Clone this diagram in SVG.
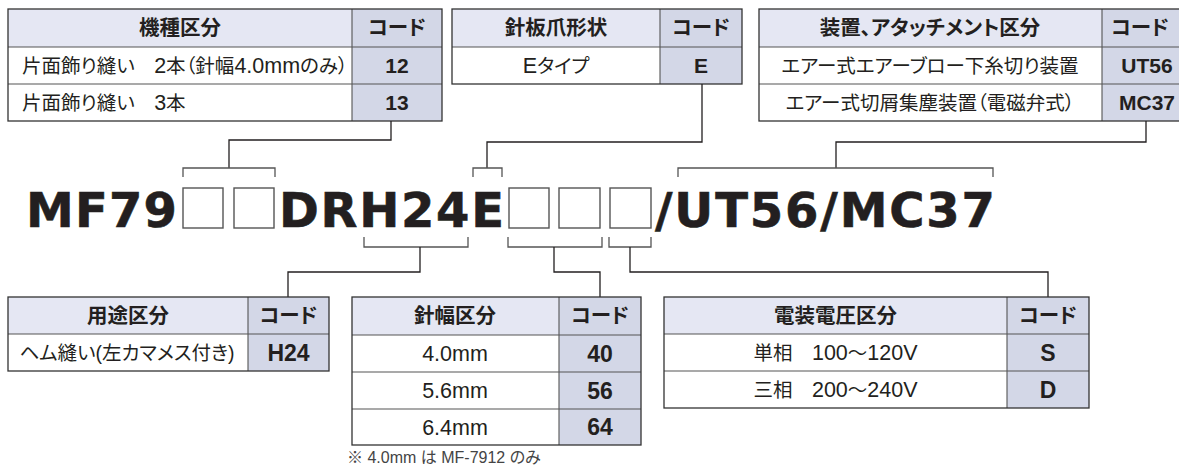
<svg xmlns="http://www.w3.org/2000/svg" width="1179" height="467" viewBox="0 0 1179 467">
<style>
.bg{fill:#ffffff}
.hd{fill:#e5e7f3}
.cd{fill:#d3d7e7}
.frame{fill:none;stroke:#333333;stroke-width:1.3}
.ln{stroke:#555555;stroke-width:1.1;fill:none}
.conn{fill:none;stroke:#231f20;stroke-width:1.3}
.brk{fill:none;stroke:#555555;stroke-width:1.3}
.box{fill:none;stroke:#555555;stroke-width:1.4}
.t{font-family:"Liberation Sans","Noto Sans CJK JP",sans-serif;font-size:19.5px;fill:#231f20;text-anchor:middle;font-feature-settings:"palt" 1}
.e{font-size:21.5px}
.l{text-anchor:start}
.b{font-weight:bold}
.h{font-size:20.5px}
.c{font-weight:bold;font-size:21px}
.c2{font-weight:bold;font-size:23px}
.model{font-family:"DejaVu Sans","Liberation Sans",sans-serif;font-weight:bold;font-size:48px;fill:#231f20;stroke:#231f20;stroke-width:0.6}
.note{font-family:"Liberation Sans","Noto Sans CJK JP",sans-serif;font-size:16px;fill:#444444;font-feature-settings:"palt" 1}
</style>
<rect class="bg" x="0" y="0" width="1179" height="467"/>

<g id="table-kishu">
<rect class="bg" x="8" y="9" width="434" height="112"/>
<rect class="hd" x="8" y="9" width="344" height="38"/>
<rect class="cd" x="352" y="9" width="90" height="112"/>
<path class="ln" d="M8,47H442M8,84H442M352,9V121"/>
<rect class="frame" x="8" y="9" width="434" height="112"/>
<text class="t b h" x="180" y="35">機種区分</text>
<text class="t b h" x="397" y="35">コード</text>
<text class="t l" x="22" y="72.5">片面飾り縫い　<tspan class="e">2</tspan>本（針幅<tspan class="e">4.0mm</tspan>のみ）</text>
<text class="t l" x="22" y="109.5">片面飾り縫い　<tspan class="e">3</tspan>本</text>
<text class="t c" x="397" y="73">12</text>
<text class="t c" x="397" y="110">13</text>
</g>

<g id="table-needleplate">
<rect class="bg" x="452" y="9" width="290" height="75"/>
<rect class="hd" x="452" y="9" width="208" height="38"/>
<rect class="cd" x="660" y="9" width="82" height="75"/>
<path class="ln" d="M452,47H742M660,9V84"/>
<rect class="frame" x="452" y="9" width="290" height="75"/>
<text class="t b h" x="556" y="35">針板爪形状</text>
<text class="t b h" x="701" y="35">コード</text>
<text class="t" x="556" y="72.5"><tspan class="e">E</tspan>タイプ</text>
<text class="t c" x="701" y="73">E</text>
</g>

<g id="table-device">
<rect class="bg" x="759" y="9" width="430" height="112"/>
<rect class="hd" x="759" y="9" width="343" height="38"/>
<rect class="cd" x="1102" y="9" width="87" height="112"/>
<path class="ln" d="M759,47H1189M759,84H1189M1102,9V121"/>
<rect class="frame" x="759" y="9" width="430" height="112"/>
<text class="t b h" x="930" y="35">装置、アタッチメント区分</text>
<text class="t b h" x="1140" y="35">コード</text>
<text class="t" x="930" y="72.5">エアー式エアーブロー下糸切り装置</text>
<text class="t" x="930" y="109.5">エアー式切屑集塵装置（電磁弁式）</text>
<text class="t c" x="1147" y="73">UT56</text>
<text class="t c" x="1147" y="110">MC37</text>
</g>

<g id="model">
<text class="model" x="26" y="227" textLength="151" lengthAdjust="spacing">MF79</text>
<rect class="box" x="183" y="188" width="40" height="40"/>
<rect class="box" x="234" y="188" width="40" height="40"/>
<text class="model" x="279" y="227" textLength="225" lengthAdjust="spacing">DRH24E</text>
<rect class="box" x="509" y="188" width="40" height="40"/>
<rect class="box" x="559" y="188" width="41" height="40"/>
<rect class="box" x="610" y="188" width="41" height="40"/>
<text class="model" x="655" y="227" textLength="340" lengthAdjust="spacing">/UT56/MC37</text>
</g>

<g id="connectors">
<path class="conn" d="M391,121V140H229V168"/>
<path class="brk" d="M183,177V168H275V177"/>
<path class="conn" d="M702,84V142H487V168"/>
<path class="brk" d="M473,177V168H502V177"/>
<path class="conn" d="M1146,121V142H836V168"/>
<path class="brk" d="M678,177V168H993V177"/>
<path class="brk" d="M364,237V247H468V237"/>
<path class="conn" d="M420,247V272H288V297"/>
<path class="brk" d="M508,237V247H602V237"/>
<path class="conn" d="M554,247V272H600V297"/>
<path class="brk" d="M609,237V247H651V237"/>
<path class="conn" d="M630,247V272H1048V297"/>
</g>

<g id="table-youto">
<rect class="bg" x="8" y="297" width="321" height="74"/>
<rect class="hd" x="8" y="297" width="240" height="37"/>
<rect class="cd" x="248" y="297" width="81" height="74"/>
<path class="ln" d="M8,334H329M248,297V371"/>
<rect class="frame" x="8" y="297" width="321" height="74"/>
<text class="t b h" x="128" y="322.5">用途区分</text>
<text class="t b h" x="288.5" y="322.5">コード</text>
<text class="t" x="127" y="359.5">ヘム縫い(左カマメス付き)</text>
<text class="t c2" x="288.5" y="360.5">H24</text>
</g>

<g id="table-needlewidth">
<rect class="bg" x="352" y="297" width="289" height="148"/>
<rect class="hd" x="352" y="297" width="207" height="38"/>
<rect class="cd" x="559" y="297" width="82" height="148"/>
<path class="ln" d="M352,335H641M352,372H641M352,409H641M559,297V445"/>
<rect class="frame" x="352" y="297" width="289" height="148"/>
<text class="t b h" x="455" y="323">針幅区分</text>
<text class="t b h" x="600" y="323">コード</text>
<text class="t e" x="455" y="361">4.0mm</text>
<text class="t e" x="455" y="398">5.6mm</text>
<text class="t e" x="455" y="434.5">6.4mm</text>
<text class="t c2" x="600" y="361.5">40</text>
<text class="t c2" x="600" y="398.5">56</text>
<text class="t c2" x="600" y="435">64</text>
<text class="note" x="347" y="463">※ 4.0mm は MF-7912 のみ</text>
</g>

<g id="table-voltage">
<rect class="bg" x="664" y="297" width="425" height="111"/>
<rect class="hd" x="664" y="297" width="343" height="37"/>
<rect class="cd" x="1007" y="297" width="82" height="111"/>
<path class="ln" d="M664,334H1089M664,371H1089M1007,297V408"/>
<rect class="frame" x="664" y="297" width="425" height="111"/>
<text class="t b h" x="835.5" y="322.5">電装電圧区分</text>
<text class="t b h" x="1048" y="322.5">コード</text>
<text class="t" x="835.5" y="360">単相　<tspan class="e">100</tspan>〜<tspan class="e">120V</tspan></text>
<text class="t" x="835.5" y="397">三相　<tspan class="e">200</tspan>〜<tspan class="e">240V</tspan></text>
<text class="t c2" x="1048" y="360.5">S</text>
<text class="t c2" x="1048" y="397.5">D</text>
</g>
</svg>
